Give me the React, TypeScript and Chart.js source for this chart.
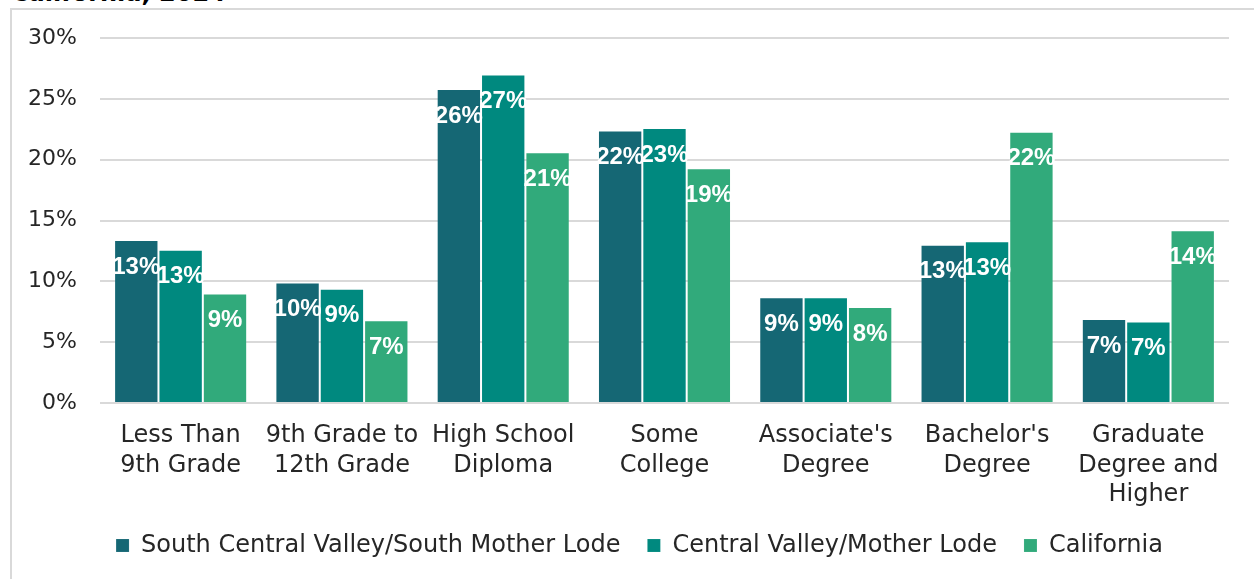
import React, { useEffect, useRef } from 'react';
import { Chart, registerables } from 'chart.js';

Chart.register(...registerables);

const categories: string[][] = [
  ['Less Than', '9th Grade'],
  ['9th Grade to', '12th Grade'],
  ['High School', 'Diploma'],
  ['Some', 'College'],
  ["Associate's", 'Degree'],
  ["Bachelor's", 'Degree'],
  ['Graduate', 'Degree and', 'Higher'],
];

const seriesNames = [
  'South Central Valley/South Mother Lode',
  'Central Valley/Mother Lode',
  'California',
];

const southCentralValley = [13.4, 9.9, 25.8, 22.4, 8.7, 13.0, 6.9];
const centralValley = [12.6, 9.4, 27.0, 22.6, 8.7, 13.3, 6.7];
const california = [9.0, 6.8, 20.6, 19.3, 7.9, 22.3, 14.2];

const seriesColors = ['#156774', '#00897F', '#31AA7B'];

const yMin = 0;
const yMax = 30;
const yStep = 5;

const titleText = 'California, 2024';

const FONT = '"DejaVu Sans", sans-serif';

const valueLabels = {
  id: 'valueLabels',
  afterDatasetsDraw(chart: any) {
    const ctx = chart.ctx;
    ctx.save();
    ctx.font = 'bold 24px "Liberation Sans", sans-serif';
    ctx.fillStyle = '#ffffff';
    ctx.textAlign = 'center';
    ctx.textBaseline = 'middle';
    chart.data.datasets.forEach((ds: any, i: number) => {
      const meta = chart.getDatasetMeta(i);
      meta.data.forEach((bar: any, j: number) => {
        const v = ds.data[j] as number;
        ctx.fillText(`${Math.round(v)}%`, bar.x, bar.y + 27);
      });
    });
    ctx.restore();
  },
};

// shift the legend so it is centred on the outer frame, like the original
const legendShift = {
  id: 'legendShift',
  afterLayout(chart: any) {
    const lg = chart.legend;
    if (lg) {
      lg.left += 25;
      lg.right += 25;
    }
  },
};

export default function App() {
  const canvasRef = useRef<HTMLCanvasElement | null>(null);

  useEffect(() => {
    if (!canvasRef.current) return;
    const chart = new Chart(canvasRef.current, {
      type: 'bar',
      data: {
        labels: categories,
        datasets: [southCentralValley, centralValley, california].map((d, i) => ({
          label: seriesNames[i],
          data: d,
          backgroundColor: seriesColors[i],
          borderColor: 'rgba(255,255,255,0.1)',
          borderWidth: 1,
          barPercentage: 1,
          categoryPercentage: 0.825,
        })),
      },
      options: {
        animation: false,
        responsive: false,
        devicePixelRatio: 1,
        layout: { padding: { left: 0, right: 25, top: 38, bottom: 11.5 } },
        plugins: {
          tooltip: { enabled: false },
          legend: {
            position: 'bottom',
            align: 'center',
            labels: {
              font: { family: FONT, size: 24 },
              color: '#262626',
              boxWidth: 13,
              boxHeight: 13,
              padding: 27,
            },
          },
        },
        scales: {
          x: {
            grid: { display: false, drawTicks: false },
            border: { display: false },
            ticks: {
              font: { family: FONT, size: 24, lineHeight: 1.225 },
              color: '#262626',
              padding: 18.5,
              maxRotation: 0,
              autoSkip: false,
            },
            afterFit(scale: any) {
              scale.height = 103.5;
            },
          },
          y: {
            min: yMin,
            max: yMax,
            grid: { color: '#d9d9d9', lineWidth: 2, drawTicks: false },
            border: { display: false },
            ticks: {
              stepSize: yStep,
              padding: 23,
              font: { family: FONT, size: 22 },
              color: '#262626',
              callback: (v: any) => `${v}%`,
            },
            afterFit(scale: any) {
              scale.width = 100;
            },
          },
        },
      },
      plugins: [valueLabels, legendShift],
    });
    return () => chart.destroy();
  }, []);

  return (
    <div
      style={{
        position: 'absolute',
        left: 0,
        top: 0,
        width: 1254,
        height: 579,
        overflow: 'hidden',
        background: '#ffffff',
      }}
    >
      <div
        style={{
          position: 'absolute',
          left: 11,
          top: -19,
          fontFamily: FONT,
          fontWeight: 'bold',
          fontSize: 24,
          lineHeight: '24px',
          color: '#000000',
          whiteSpace: 'nowrap',
        }}
      >
        {titleText}
      </div>
      <div
        style={{
          position: 'absolute',
          left: 10,
          top: 8,
          width: 1400,
          height: 700,
          borderLeft: '2px solid #d9d9d9',
          borderTop: '2px solid #d9d9d9',
        }}
      />
      <canvas
        ref={canvasRef}
        width={1254}
        height={579}
        style={{ position: 'absolute', left: 0, top: 0, width: 1254, height: 579 }}
      />
    </div>
  );
}
